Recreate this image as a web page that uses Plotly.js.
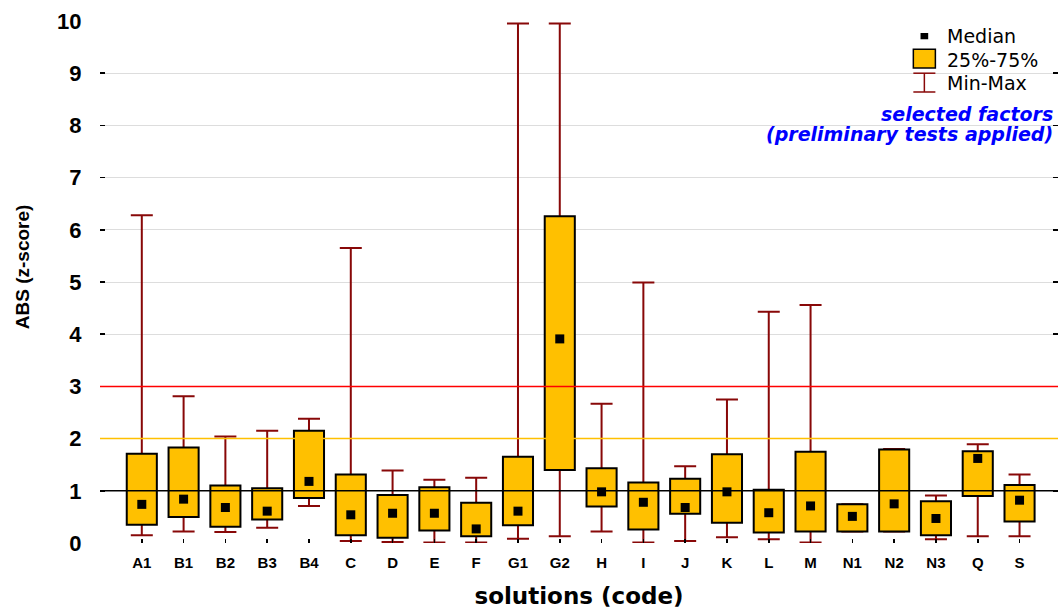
<!DOCTYPE html>
<html>
<head>
<meta charset="utf-8">
<script src="https://cdn.plot.ly/plotly-3.0.1.min.js"></script>
<style>html,body{margin:0;padding:0;background:#fff;}#chart{width:1059px;height:610px;}</style>
</head>
<body>
<div id="chart"></div>
<script>
// Data
const categories = ["A1","B1","B2","B3","B4","C","D","E","F","G1","G2","H","I","J","K","L","M","N1","N2","N3","Q","S"];
const minVals    = [0.15,0.22,0.21,0.29,0.71,0.04,0.02,0.01,0.01,0.08,0.13,0.22,0.01,0.04,0.11,0.07,0.01,0.22,0.22,0.07,0.13,0.13];
const q1Vals     = [0.35,0.50,0.31,0.45,0.86,0.15,0.10,0.24,0.13,0.34,1.40,0.70,0.26,0.56,0.39,0.20,0.22,0.22,0.22,0.15,0.90,0.41];
const medianVals = [0.74,0.84,0.68,0.61,1.18,0.54,0.57,0.57,0.27,0.61,3.91,0.98,0.78,0.68,0.98,0.58,0.71,0.51,0.75,0.47,1.62,0.82];
const q3Vals     = [1.71,1.83,1.10,1.05,2.15,1.31,0.92,1.07,0.77,1.65,6.26,1.43,1.16,1.23,1.70,1.02,1.75,0.74,1.79,0.80,1.76,1.11];
const maxVals    = [6.28,2.81,2.04,2.15,2.38,5.65,1.39,1.21,1.25,9.95,9.95,2.67,4.99,1.47,2.75,4.43,4.56,0.74,1.80,0.91,1.89,1.31];
const refLines   = [1, 2, 3];
const refColors  = ["#000000", "#FFC000", "#FF0000"];
const yTicks     = [0,1,2,3,4,5,6,7,8,9,10];

const idx = categories.map((c, i) => i);
const xRange = [-1, categories.length - 0.08];
const whiskerColor = "#880808";
const boxColor = "#FFC000";

const whiskers = {
  type: "scatter", mode: "markers", x: idx, y: minVals,
  marker: {size: 1, opacity: 0},
  error_y: {type: "data", symmetric: false,
    array: maxVals.map((m, i) => m - minVals[i]),
    arrayminus: minVals.map(() => 0),
    color: whiskerColor, thickness: 2, width: 11},
  zorder: 0, showlegend: false, hoverinfo: "skip"
};
const boxes = {
  type: "bar", x: idx, base: q1Vals,
  y: q3Vals.map((q, i) => q - q1Vals[i]),
  width: 0.72,
  marker: {color: boxColor, line: {color: "#000000", width: 2}},
  zorder: 1, showlegend: false
};
const lineTraces = refLines.map((v, i) => ({
  type: "scatter", mode: "lines", x: xRange, y: [v, v],
  line: {color: refColors[i], width: 1.5},
  zorder: 2, showlegend: false, hoverinfo: "skip"
}));
const medians = {
  type: "scatter", mode: "markers", x: idx, y: medianVals,
  marker: {symbol: "square", size: 9, color: "#000000"},
  zorder: 3, showlegend: false
};

// manual legend
const shapes = [];
shapes.push({type: "rect", xref: "paper", yref: "paper", x0: 0.849, x1: 0.872, y0: 0.910, y1: 0.946,
  fillcolor: boxColor, line: {color: "#000", width: 1.5}});
shapes.push({type: "line", xref: "paper", yref: "paper", x0: 0.8605, x1: 0.8605, y0: 0.864, y1: 0.900,
  line: {color: whiskerColor, width: 1.5}});
shapes.push({type: "line", xref: "paper", yref: "paper", x0: 0.849, x1: 0.872, y0: 0.900, y1: 0.900,
  line: {color: whiskerColor, width: 1.5}});
shapes.push({type: "line", xref: "paper", yref: "paper", x0: 0.849, x1: 0.872, y0: 0.864, y1: 0.864,
  line: {color: whiskerColor, width: 1.5}});
shapes.push({type: "rect", xref: "paper", yref: "paper", x0: 0.8565, x1: 0.8645, y0: 0.965, y1: 0.977,
  fillcolor: "#000", line: {width: 0}});

const legFont = {family: "DejaVu Sans, Arial, sans-serif", size: 19, color: "#000"};
const blueFont = {family: "DejaVu Sans, Arial, sans-serif", size: 19, color: "#0000FF", weight: "bold", style: "italic"};
const annotations = [
  {xref: "paper", yref: "paper", x: 0.882, y: 0.971, xanchor: "left", yanchor: "middle", text: "Median", showarrow: false, font: legFont},
  {xref: "paper", yref: "paper", x: 0.882, y: 0.925, xanchor: "left", yanchor: "middle", text: "25%-75%", showarrow: false, font: legFont},
  {xref: "paper", yref: "paper", x: 0.882, y: 0.881, xanchor: "left", yanchor: "middle", text: "Min-Max", showarrow: false, font: legFont},
  {xref: "paper", yref: "paper", x: 0.9965, y: 0.822, xanchor: "right", yanchor: "middle", text: "<b><i>selected factors</i></b>", showarrow: false, font: blueFont},
  {xref: "paper", yref: "paper", x: 0.9965, y: 0.784, xanchor: "right", yanchor: "middle", text: "<b><i>(preliminary tests applied)</i></b>", showarrow: false, font: blueFont},
  {xref: "paper", yref: "paper", x: -0.080, y: 0.529, xanchor: "center", yanchor: "middle", textangle: -90,
   text: "<b>ABS (z-score)</b>", showarrow: false, font: {family: "Arial, Liberation Sans, sans-serif", size: 19, color: "#000"}}
];

const layout = {
  width: 1059, height: 610,
  margin: {l: 100, r: 1, t: 21, b: 67},
  paper_bgcolor: "#fff", plot_bgcolor: "#fff",
  showlegend: false,
  xaxis: {
    type: "linear", range: xRange, tickvals: idx, ticktext: categories,
    showline: true, linecolor: "#000", linewidth: 2, mirror: true,
    ticks: "inside", ticklen: 4, tickcolor: "#000", tickwidth: 1.5,
    showgrid: false, zeroline: false,
    tickfont: {family: "Arial, Liberation Sans, sans-serif", size: 15, color: "#000", weight: "bold"},
    ticklabelstandoff: 5,
    title: {text: "<b>solutions (code)</b>", font: {family: "DejaVu Sans, Open Sans, sans-serif", size: 23, color: "#000"}, standoff: 18}
  },
  yaxis: {
    range: [0, 10], tickvals: yTicks, ticktext: yTicks.map(String),
    showline: true, linecolor: "#000", linewidth: 2, mirror: "ticks",
    ticks: "inside", ticklen: 5, tickcolor: "#000", tickwidth: 1.5,
    showgrid: true, gridcolor: "#DDDDDD", gridwidth: 1, zeroline: false,
    tickfont: {family: "Arial, Liberation Sans, sans-serif", size: 22, color: "#000", weight: "bold"},
    ticklabelstandoff: 12
  },
  shapes: shapes,
  annotations: annotations
};

Plotly.newPlot("chart", [whiskers, boxes, ...lineTraces, medians], layout, {displayModeBar: false, staticPlot: true});
</script>
</body>
</html>
